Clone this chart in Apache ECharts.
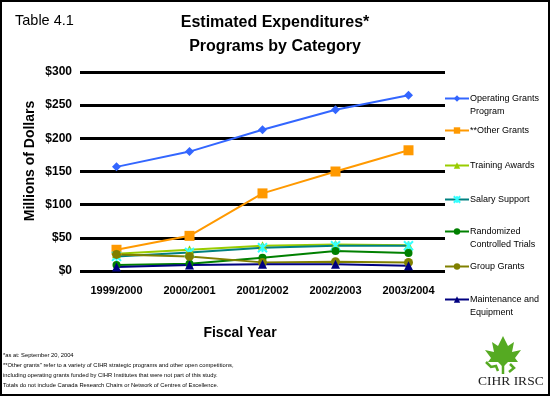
<!DOCTYPE html>
<html><head><meta charset="utf-8">
<script src="https://cdn.jsdelivr.net/npm/echarts@6/dist/echarts.min.js"></script>
<style>html,body{margin:0;padding:0;background:#fff}#c{width:550px;height:396px}</style>
</head><body><div id="c"></div>
<script>
var categories = ['1999/2000','2000/2001','2001/2002','2002/2003','2003/2004'];
var yTicks = [0,50,100,150,200,250,300];
var operatingGrants = [157,180,213,243,265];
var otherGrants = [32,53,117,150,182];
var trainingAwards = [26,32,38,40,39];
var salarySupport = [22,28,35,38,38];
var randomizedTrials = [9,11,20,30,27];
var groupGrants = [25,22,13,14,13];
var maintenance = [6,9,10,10,8];

var FONT = 'Liberation Sans, Arial, sans-serif';
var seriesDefs = [
  {name:'Operating Grants Program', line1:'Operating Grants', line2:'Program', data:operatingGrants, color:'#3366FF', mcolor:'#3366FF', symbol:'diamond', size:9},
  {name:'**Other Grants', line1:'**Other Grants', line2:'', data:otherGrants, color:'#FF9900', mcolor:'#FF9900', symbol:'rect', size:10},
  {name:'Training Awards', line1:'Training Awards', line2:'', data:trainingAwards, color:'#99CC00', mcolor:'#99CC00', symbol:'triangle', size:9},
  {name:'Salary Support', line1:'Salary Support', line2:'', data:salarySupport, color:'#008080', mcolor:'#33FFFF', symbol:'path://M0,0L10,10M10,0L0,10M5,0L5,10', size:9},
  {name:'Randomized Controlled Trials', line1:'Randomized', line2:'Controlled Trials', data:randomizedTrials, color:'#008000', mcolor:'#008000', symbol:'circle', size:8},
  {name:'Group Grants', line1:'Group Grants', line2:'', data:groupGrants, color:'#808000', mcolor:'#808000', symbol:'circle', size:9},
  {name:'Maintenance and Equipment', line1:'Maintenance and', line2:'Equipment', data:maintenance, color:'#000080', mcolor:'#000080', symbol:'triangle', size:9}
];
var legendCenters = [101,133,168,202,234,269,302];

var chart = echarts.init(document.getElementById('c'));
var series = seriesDefs.map(function(s){
  var isStar = s.symbol.indexOf('path://')===0;
  return {
    name:s.name, type:'line', data:s.data, symbol:s.symbol, symbolSize:s.size,
    lineStyle:{color:s.color, width:2},
    itemStyle: isStar ? {color:s.mcolor, borderColor:s.mcolor, borderWidth:2} : {color:s.mcolor},
    animation:false
  };
});
var legends = seriesDefs.map(function(s,i){
  return {
    data:[s.name], left:442, top:legendCenters[i]-9, orient:'vertical', padding:[2,2,2,2],
    itemWidth:24, itemHeight:8, itemGap:0,
    formatter:function(){return s.line1;},
    textStyle:{fontSize:9, fontFamily:FONT, color:'#000', padding:[0,0,0,-4]},
    selectedMode:false
  };
});
var graphics = [
  {type:'rect', shape:{x:1,y:1,width:548,height:394}, style:{fill:'none', stroke:'#000', lineWidth:2}, silent:true},
  {type:'text', x:275, y:23, style:{text:'Estimated Expenditures*', fontSize:16, fontWeight:'bold', fill:'#000', fontFamily:FONT, align:'center', verticalAlign:'middle'}},
  {type:'text', x:275, y:47, style:{text:'Programs by Category', fontSize:16, fontWeight:'bold', fill:'#000', fontFamily:FONT, align:'center', verticalAlign:'middle'}},
  {type:'text', x:15, y:21, style:{text:'Table 4.1', fontSize:14.5, fill:'#000', fontFamily:FONT, verticalAlign:'middle'}},
  {type:'text', x:30, y:161, rotation:Math.PI/2, style:{text:'Millions of Dollars', fontSize:14, fontWeight:'bold', fill:'#000', fontFamily:FONT, align:'center', verticalAlign:'middle'}},
  {type:'text', x:240, y:333, style:{text:'Fiscal Year', fontSize:14, fontWeight:'bold', fill:'#000', fontFamily:FONT, align:'center', verticalAlign:'middle'}},
  {type:'text', left:3, top:350, style:{text:'*as at: September 20, 2004\n**Other grants" refer to a variety of CIHR strategic programs and other open competitions,\nincluding operating grants funded by CIHR Institutes that were not part of this study.\nTotals do not include Canada Research Chairs or Network of Centres of Excellence.',
    fontSize:5.8, lineHeight:10, fill:'#000', fontFamily:FONT}},
  {type:'text', x:478, y:381, style:{text:'CIHR IRSC', fontSize:13.5, fill:'#222', fontFamily:'Liberation Serif, Times New Roman, serif', verticalAlign:'middle'}},
  {type:'polygon', shape:{points:[[503,336],[508,346],[514,342],[512,352],[521,350],[515,358],[518,362],[508,362],[503,367],[498,362],[488,362],[491,358],[485,350],[494,352],[492,342],[498,346]]}, style:{fill:'#55AA22'}},
  {type:'polyline', shape:{points:[[486,362],[491,367],[496,366],[498,371]]}, style:{stroke:'#55AA22', lineWidth:2.5, fill:'none'}},
  {type:'polyline', shape:{points:[[510,364],[514,368],[509,372]]}, style:{stroke:'#55AA22', lineWidth:2.5, fill:'none'}},
  {type:'polyline', shape:{points:[[503,364],[503,374]]}, style:{stroke:'#55AA22', lineWidth:2.5, fill:'none'}}
];
seriesDefs.forEach(function(s,i){
  if (s.line2) graphics.push({type:'text', x:470, y:legendCenters[i]+11, style:{text:s.line2, fontSize:9, fill:'#000', fontFamily:FONT, verticalAlign:'middle'}});
});
chart.setOption({
  backgroundColor:'#fff',
  animation:false,
  legend:legends,
  grid:{left:80, right:105, top:72, bottom:125},
  xAxis:{type:'category', data:categories, boundaryGap:true,
    axisLine:{show:false}, axisTick:{show:false},
    axisLabel:{fontSize:11, fontWeight:'bold', color:'#000', fontFamily:FONT, margin:14}
  },
  yAxis:{type:'value', min:0, max:300, interval:50,
    axisLine:{show:false}, axisTick:{show:false},
    splitLine:{lineStyle:{color:'#000', width:3}},
    axisLabel:{fontSize:12, fontWeight:'bold', color:'#000', fontFamily:FONT, margin:8,
      formatter:function(v){return '$'+v;}}
  },
  series:series,
  graphic:graphics
});
</script></body></html>
